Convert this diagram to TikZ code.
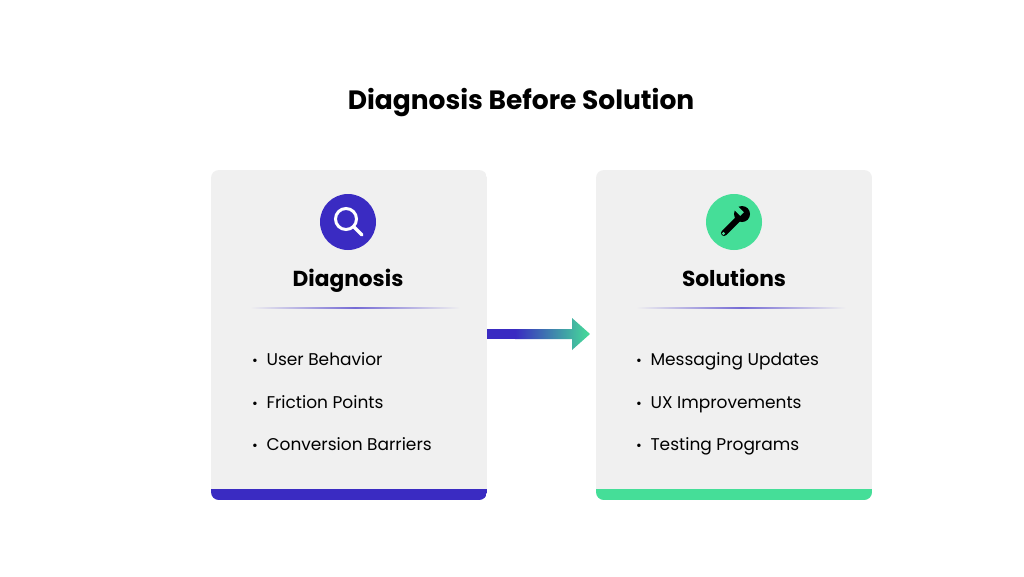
\documentclass[tikz,border=0pt]{standalone}
\usepackage{fontspec}
\setmainfont{Poppins}
\definecolor{pur}{HTML}{3A2BC2}
\definecolor{grn}{HTML}{45DE98}
\definecolor{boxc}{HTML}{F0F0F0}
\begin{document}
\begin{tikzpicture}[x=1pt,y=-1pt,
  head/.style={font=\fontsize{21.7}{24}\selectfont\bfseries,anchor=base},
  item/.style={font=\fontsize{17}{20}\selectfont,anchor=base west},
  dot/.style={font=\fontsize{14}{16}\selectfont,anchor=base}]
\useasboundingbox[fill=white] (0,0) rectangle (1024,576);
\node[font=\fontsize{26.5}{30}\selectfont\bfseries,anchor=base] (title) at (521,109) {Diagnosis Before Solution};
% cards
\begin{scope}
\clip[rounded corners=8pt] (211,170) rectangle (487,500);
\fill[boxc] (211,170) rectangle (487,500);
\fill[pur] (211,489) rectangle (487,500);
\end{scope}
\begin{scope}
\clip[rounded corners=8pt] (596,170) rectangle (872,500);
\fill[boxc] (596,170) rectangle (872,500);
\fill[grn] (596,489) rectangle (872,500);
\end{scope}
\coordinate (L) at (487,334);
\coordinate (R) at (590,334);
% icons
\node[circle,fill=pur,minimum size=56pt,inner sep=0] (ic1) at (348,222) {};
\draw[white,line width=3pt] (346,219) circle (10.5);
\draw[white,line width=3.4pt,line cap=round] (354,227) -- (362,235);
\node[circle,fill=grn,minimum size=56pt,inner sep=0] (ic2) at (734,222) {};
\draw[black,line width=6pt,line cap=round] (724,233) -- (738,219);
\fill[black] (742,214) circle (8);
\fill[grn,rotate around={45:(742,214)}] (739.5,203) rectangle (744.5,214);
\fill[grn] (723.5,233.5) circle (1.6);
% headings
\node[head] (h1) at (348,286) {Diagnosis};
\node[head] (h2) at (734,286) {Solutions};
\shade[left color=boxc,right color=pur!70] (250,307.6) rectangle (355,308.6);
\shade[left color=pur!70,right color=boxc] (355,307.6) rectangle (460,308.6);
\shade[left color=boxc,right color=pur!70] (636,307.6) rectangle (741,308.6);
\shade[left color=pur!70,right color=boxc] (741,307.6) rectangle (846,308.6);
% arrow
\fill[pur] (L) ++(0,-5) rectangle (515,339);
\shade[left color=pur,right color=grn] (515,329) -- (572,329) -- (572,318) -- (R) -- (572,350) -- (572,339) -- (515,339) -- cycle;
% items
\foreach \t/\y [count=\i] in {User Behavior/365,Friction Points/408,Conversion Barriers/450}{
  \node[dot] (d1\i) at (255,\y) {•};
  \node[item] (a\i) at (263,\y) {\t};}
\foreach \t/\y [count=\i] in {Messaging Updates/365,UX Improvements/408,Testing Programs/450}{
  \node[dot] (d2\i) at (639,\y) {•};
  \node[item] (b\i) at (647,\y) {\t};}
\end{tikzpicture}
\end{document}
